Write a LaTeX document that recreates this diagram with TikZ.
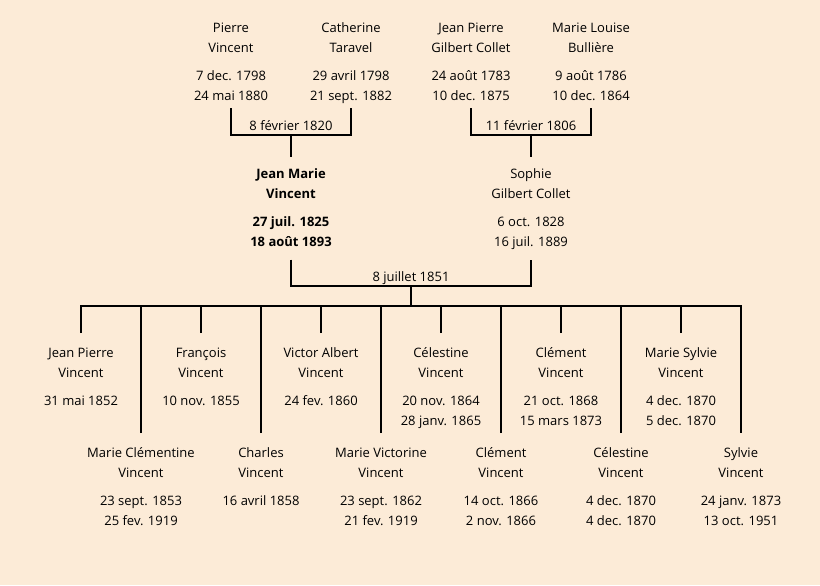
\documentclass[tikz,border=0pt]{standalone}
\usepackage{fontspec}
\setmainfont{Open Sans}
\definecolor{parchemin}{RGB}{252, 235, 215}
\newcommand{\fiche}[2]{\strut#1\\[6pt]#2\strut}

\begin{document}
\begin{tikzpicture}[x=0.75pt, y=-0.75pt,
        personne/.style={align=center, anchor=north, inner xsep=2pt,
            font=\fontsize{9.75}{15}\selectfont},
        ancetre/.style={personne, inner ysep=1.1pt},
        parent/.style={personne, inner ysep=5.25pt},
        enfant/.style={personne, inner ysep=7.9pt},
        gras/.style={font=\fontsize{9.75}{15}\selectfont\bfseries},
        noce/.style={anchor=base, yshift=3.5pt, font=\fontsize{9.75}{15}\selectfont},
        lien/.style={line width=1.5pt}]
    \fill[parchemin] (0,0) rectangle (820,585);

    % grands-parents
    \node[ancetre] (pv) at (231,17) {\fiche{Pierre\\Vincent}{7 dec. 1798\\24 mai 1880}};
    \node[ancetre] (ct) at (351,17) {\fiche{Catherine\\Taravel}{29 avril 1798\\21 sept. 1882}};
    \node[ancetre] (jg) at (471,17) {\fiche{Jean Pierre\\Gilbert Collet}{24 août 1783\\10 dec. 1875}};
    \node[ancetre] (mb) at (591,17) {\fiche{Marie Louise\\Bullière}{9 août 1786\\10 dec. 1864}};

    % parents
    \node[parent, gras] (jm) at (291,157) {\fiche{Jean Marie\\Vincent}{27 juil. 1825\\18 août 1893}};
    \node[parent] (so) at (531,157) {\fiche{Sophie\\Gilbert Collet}{6 oct. 1828\\16 juil. 1889}};

    % enfants
    \node[enfant] (c1)  at (81,333)  {\fiche{Jean Pierre\\Vincent}{31 mai 1852}};
    \node[enfant] (c2)  at (141,433) {\fiche{Marie Clémentine\\Vincent}{23 sept. 1853\\25 fev. 1919}};
    \node[enfant] (c3)  at (201,333) {\fiche{François\\Vincent}{10 nov. 1855}};
    \node[enfant] (c4)  at (261,433) {\fiche{Charles\\Vincent}{16 avril 1858}};
    \node[enfant] (c5)  at (321,333) {\fiche{Victor Albert\\Vincent}{24 fev. 1860}};
    \node[enfant] (c6)  at (381,433) {\fiche{Marie Victorine\\Vincent}{23 sept. 1862\\21 fev. 1919}};
    \node[enfant] (c7)  at (441,333) {\fiche{Célestine\\Vincent}{20 nov. 1864\\28 janv. 1865}};
    \node[enfant] (c8)  at (501,433) {\fiche{Clément\\Vincent}{14 oct. 1866\\2 nov. 1866}};
    \node[enfant] (c9)  at (561,333) {\fiche{Clément\\Vincent}{21 oct. 1868\\15 mars 1873}};
    \node[enfant] (c10) at (621,433) {\fiche{Célestine\\Vincent}{4 dec. 1870\\4 dec. 1870}};
    \node[enfant] (c11) at (681,333) {\fiche{Marie Sylvie\\Vincent}{4 dec. 1870\\5 dec. 1870}};
    \node[enfant] (c12) at (741,433) {\fiche{Sylvie\\Vincent}{24 janv. 1873\\13 oct. 1951}};

    % mariages
    \coordinate (m1) at (291,135);
    \coordinate (m2) at (531,135);
    \coordinate (m3) at (411,286);
    \coordinate (fam) at (411,305.5);
    \draw[lien] (pv.south) |- (m1) -| (ct.south);
    \draw[lien] (m1) -- (jm.north);
    \node[noce] (n1) at (m1) {8 février 1820};
    \draw[lien] (jg.south) |- (m2) -| (mb.south);
    \draw[lien] (m2) -- (so.north);
    \node[noce] (n2) at (m2) {11 février 1806};
    \draw[lien] (jm.south) |- (m3) -| (so.south);
    \draw[lien] (m3) -- (fam);
    \node[noce] (n3) at (m3) {8 juillet 1851};

    \draw[lien] (c1.north) |- (fam) -| (c12.north);
    \foreach \i in {2,...,11}
        \draw[lien] (c\i.north) -- (c\i.north |- fam);
\end{tikzpicture}
\end{document}
